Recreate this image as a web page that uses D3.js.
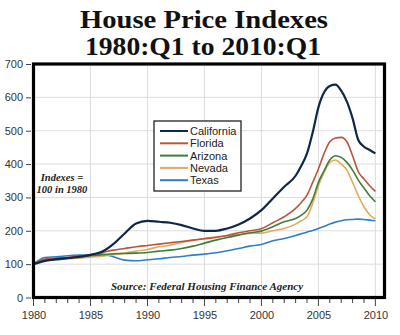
<!DOCTYPE html>
<html lang="en">
<head>
<meta charset="UTF-8">
<title>House Price Indexes</title>
<style>
    body { margin: 0; background: #fff; }
    svg { display: block; }
    .tick-label { font-family: Arial, "Liberation Sans", sans-serif; font-size: 11px; fill: #333; }
    .title { font-family: "Liberation Serif", serif; font-weight: bold; font-size: 26px; fill: #111; text-anchor: middle; }
    .note { font-family: "Liberation Serif", serif; font-weight: bold; font-style: italic; fill: #222; }
    .legend-text { font-family: Arial, "Liberation Sans", sans-serif; font-size: 11px; fill: #222; }
</style>
</head>
<body>
<div id="chart"></div>
<script src="https://d3js.org/d3.v7.min.js"></script>
<script>
// time points: yearly to 2003, half-yearly after that
const years = [1980, 1981, 1982, 1983, 1984, 1985, 1986, 1987, 1988, 1989,
    1990, 1991, 1992, 1993, 1994, 1995, 1996, 1997, 1998, 1999,
    2000, 2001, 2002, 2003, 2003.5, 2004, 2004.5, 2005, 2005.5, 2006,
    2006.5, 2007, 2007.5, 2008, 2008.5, 2009, 2009.5, 2010];

const california = [100, 110, 115, 118, 122, 128, 137, 160, 192, 222,
    230, 227, 224, 217, 207, 200, 200, 207, 219, 237,
    262, 297, 332, 365, 395, 432, 495, 570, 615, 634,
    638, 620, 587, 537, 472, 452, 442, 432];
const florida = [100, 115, 118, 120, 124, 128, 135, 142, 147, 152,
    156, 160, 164, 168, 172, 176, 180, 186, 194, 200,
    206, 224, 242, 267, 285, 307, 345, 385, 432, 467,
    478, 480, 467, 425, 377, 355, 335, 318];
const arizona = [100, 112, 113, 118, 122, 125, 128, 131, 132, 133,
    135, 139, 142, 147, 154, 163, 172, 180, 187, 194,
    199, 212, 227, 237, 247, 262, 295, 345, 380, 412,
    425, 420, 405, 382, 352, 328, 305, 287];
const nevada = [100, 113, 118, 117, 118, 121, 124, 128, 133, 139,
    144, 152, 157, 165, 172, 177, 182, 185, 189, 192,
    193, 200, 207, 220, 230, 242, 282, 335, 375, 405,
    412, 400, 382, 345, 305, 272, 248, 235];
const texas = [100, 120, 122, 125, 127, 128, 130, 122, 112, 110,
    113, 116, 120, 123, 127, 130, 134, 140, 147, 154,
    159, 170, 177, 186, 191, 196, 201, 207, 213, 220,
    226, 230, 233, 234, 235, 234, 232, 230];

const stateNames = ["California", "Florida", "Arizona", "Nevada", "Texas"];
const stateColors = ["#0f2748", "#b8553e", "#3f7d3b", "#e2aa5c", "#2e7fc6"];
const yTicks = [0, 100, 200, 300, 400, 500, 600, 700];
const xTicks = [1980, 1985, 1990, 1995, 2000, 2005, 2010];

const series = [california, florida, arizona, nevada, texas];

const W = 400, H = 335;
const svg = d3.select("#chart").append("svg").attr("width", W).attr("height", H);

const x = d3.scaleLinear().domain([1980, 2010.8]).range([33.5, 384.5]);
const y = d3.scaleLinear().domain([0, 700]).range([297.5, 64]);

// title, stretched to the width of the heading block
svg.append("text").attr("class", "title").attr("x", 204).attr("y", 28)
    .attr("textLength", 248).attr("lengthAdjust", "spacingAndGlyphs").text("House Price Indexes");
svg.append("text").attr("class", "title").attr("x", 203).attr("y", 55)
    .attr("textLength", 236).attr("lengthAdjust", "spacingAndGlyphs").text("1980:Q1 to 2010:Q1");

// grid
svg.append("g").selectAll("line").data(yTicks.slice(1, -1)).join("line")
    .attr("x1", x.range()[0]).attr("x2", x.range()[1])
    .attr("y1", d => y(d)).attr("y2", d => y(d))
    .attr("stroke", "#dcdcdc").attr("stroke-width", 1);
svg.append("g").selectAll("line").data(xTicks.slice(1)).join("line")
    .attr("x1", d => x(d)).attr("x2", d => x(d))
    .attr("y1", y.range()[1]).attr("y2", y.range()[0])
    .attr("stroke", "#dcdcdc").attr("stroke-width", 1);

// series lines
const line = d3.line().x((d, i) => x(years[i])).y(d => y(d)).curve(d3.curveMonotoneX);
// draw Texas first so California sits on top
series.map((s, i) => ({ s, i })).reverse().forEach(({ s, i }) => {
    svg.append("path")
        .datum(s)
        .attr("d", line)
        .attr("fill", "none")
        .attr("stroke", stateColors[i])
        .attr("stroke-width", i === 0 ? 2.2 : 1.6)
        .attr("stroke-linejoin", "round");
});

// y axis
const yAxis = d3.axisLeft(y).tickValues(yTicks).tickSize(5).tickPadding(3);
const gy = svg.append("g").attr("transform", "translate(31,0)").call(yAxis);
gy.select(".domain").remove();
gy.selectAll(".tick line").attr("stroke", "#444");
gy.selectAll(".tick text").attr("class", "tick-label").attr("font-size", null).attr("font-family", null);

// x axis with yearly minor ticks
const minorYears = d3.range(1980, 2011);
svg.append("g").selectAll("line").data(minorYears).join("line")
    .attr("x1", d => x(d)).attr("x2", d => x(d))
    .attr("y1", 299).attr("y2", d => d % 5 === 0 ? 306 : 303)
    .attr("stroke", "#444").attr("stroke-width", 1);
const xAxis = d3.axisBottom(x).tickValues(xTicks).tickFormat(d3.format("d")).tickSize(0).tickPadding(13);
const gx = svg.append("g").attr("transform", "translate(0,298)").call(xAxis);
gx.select(".domain").remove();
gx.selectAll(".tick text").attr("class", "tick-label").attr("font-size", null).attr("font-family", null);

// frame
svg.append("rect")
    .attr("x", x.range()[0]).attr("y", y.range()[1])
    .attr("width", x.range()[1] - x.range()[0]).attr("height", y.range()[0] - y.range()[1])
    .attr("fill", "none").attr("stroke", "#000").attr("stroke-width", 3.2);

// legend
const lg = svg.append("g").attr("transform", "translate(154,121)");
lg.append("rect").attr("width", 87).attr("height", 70)
    .attr("fill", "#fff").attr("stroke", "#222").attr("stroke-width", 1.3);
stateNames.forEach((name, i) => {
    const ry = 10 + i * 12.3;
    lg.append("line").attr("x1", 6).attr("x2", 34).attr("y1", ry).attr("y2", ry)
        .attr("stroke", stateColors[i]).attr("stroke-width", 2);
    lg.append("text").attr("class", "legend-text").attr("x", 36).attr("y", ry + 4).text(name);
});

// notes
svg.append("text").attr("class", "note").attr("x", 62).attr("y", 181)
    .attr("text-anchor", "middle").attr("font-size", 10.5).text("Indexes =");
svg.append("text").attr("class", "note").attr("x", 62).attr("y", 193)
    .attr("text-anchor", "middle").attr("font-size", 10.5).text("100 in 1980");
svg.append("text").attr("class", "note").attr("x", 207).attr("y", 290)
    .attr("text-anchor", "middle").attr("font-size", 11).text("Source: Federal Housing Finance Agency");
</script>
</body>
</html>
